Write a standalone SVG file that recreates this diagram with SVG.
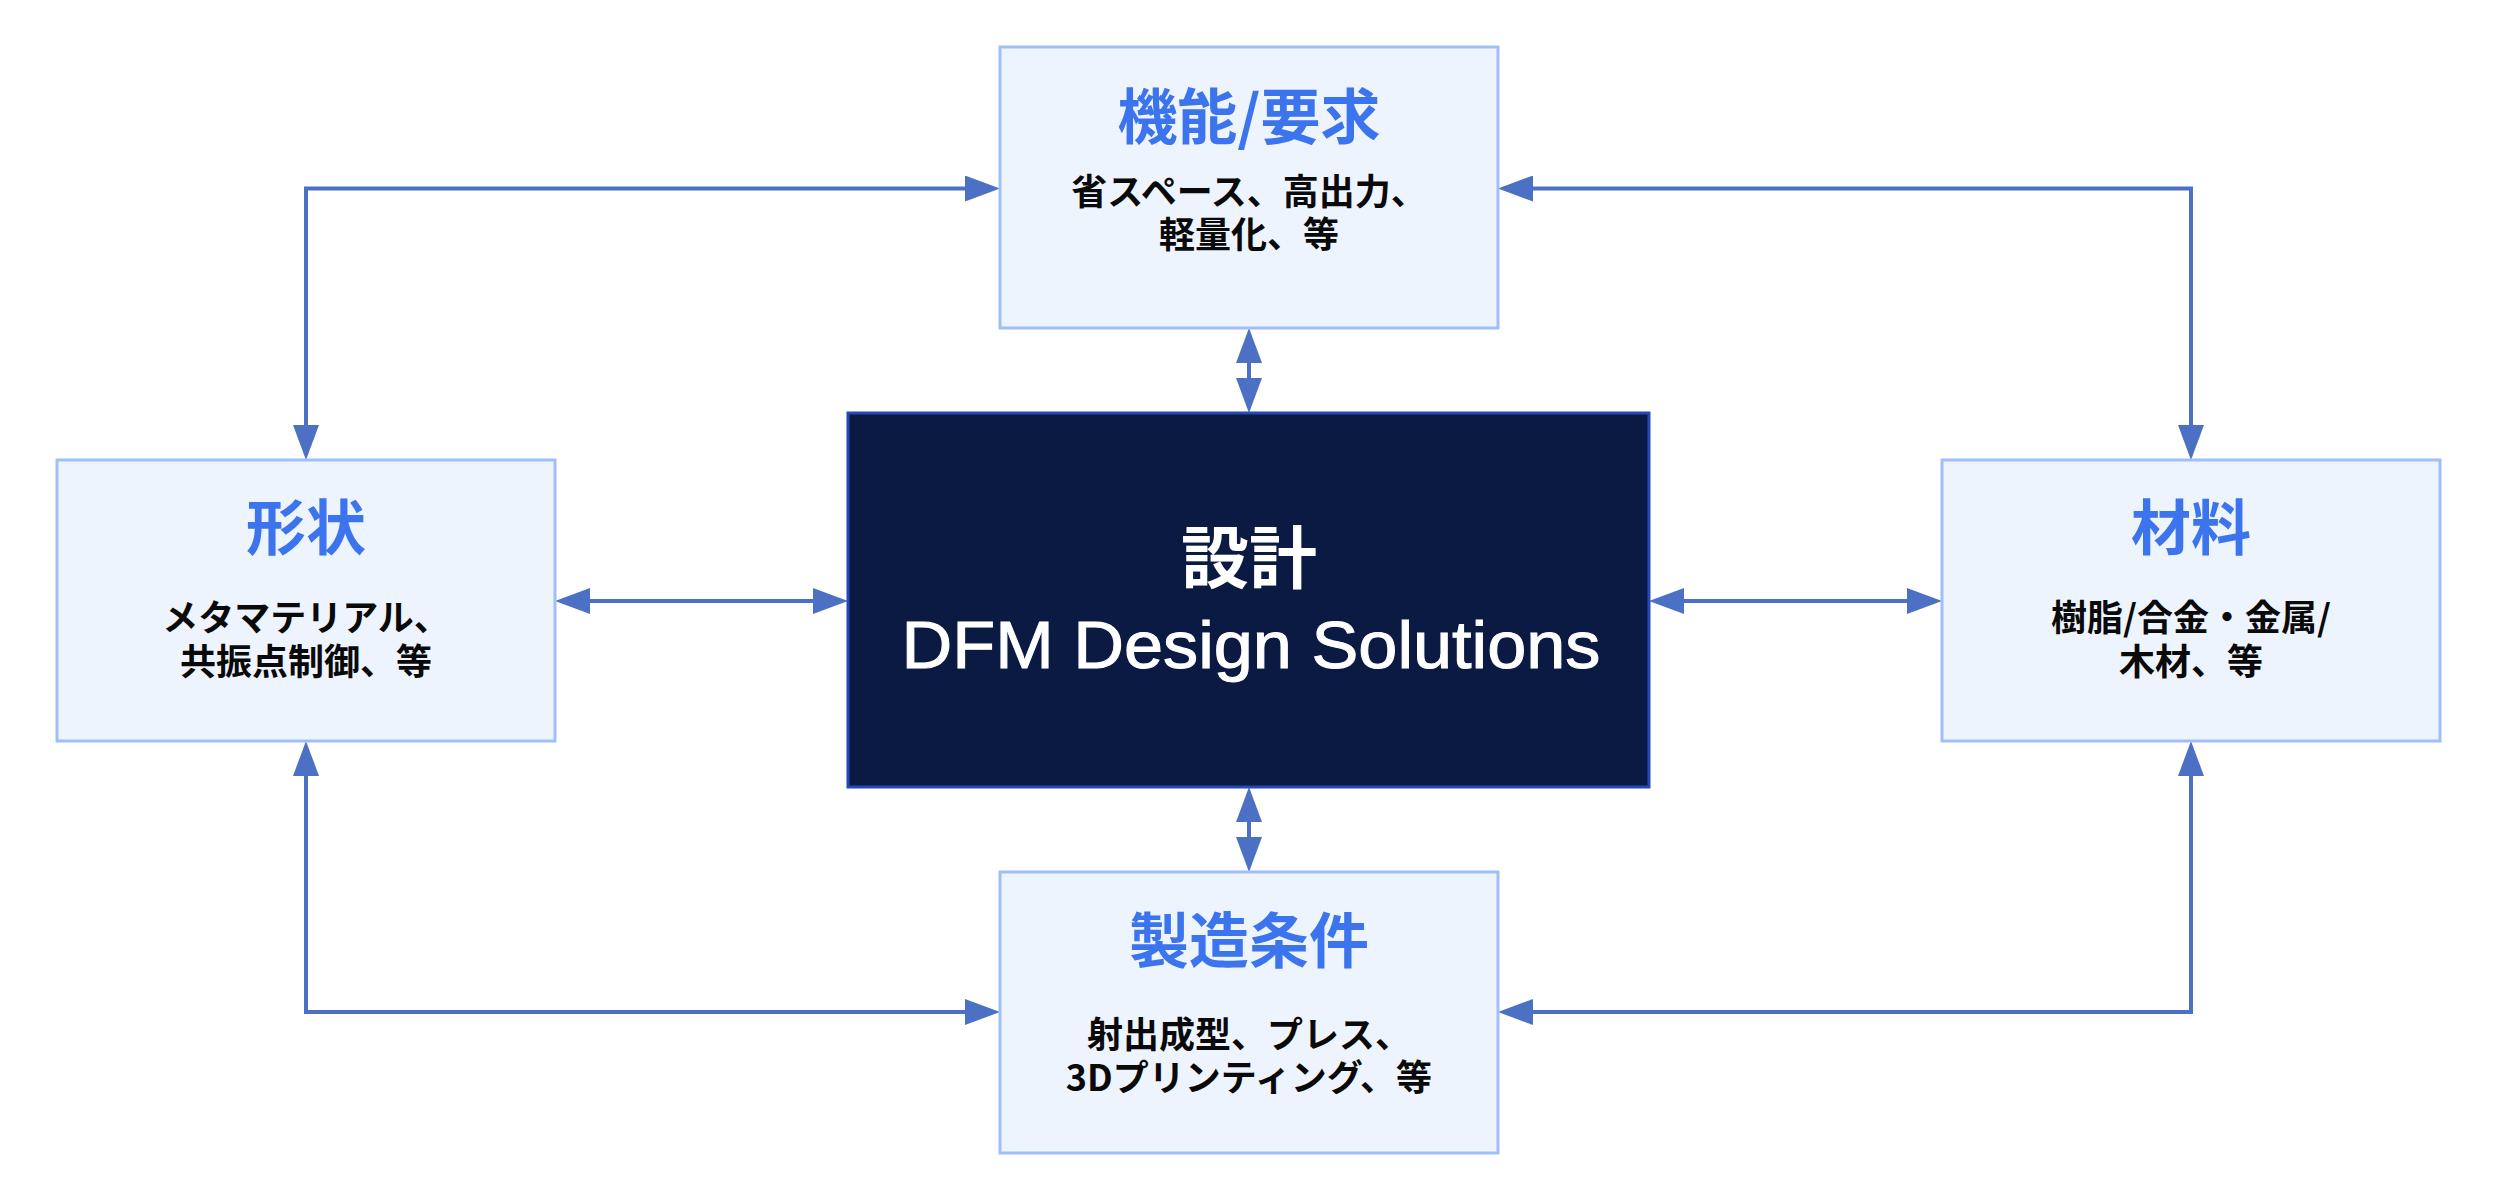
<svg xmlns="http://www.w3.org/2000/svg" width="2498" height="1200" viewBox="0 0 2498 1200">
<defs>
<style>
.box{fill:#eef4fe;stroke:#a0bff7;stroke-width:3}
.core{fill:#0a1a42;stroke:#2448b8;stroke-width:3}
.title{font-family:"Noto Sans CJK JP","Noto Sans CJK SC",sans-serif;font-size:60px;font-weight:700;fill:#3b74ec;text-anchor:middle}
.body{font-family:"Noto Sans CJK JP","Noto Sans CJK SC",sans-serif;font-size:36px;font-weight:700;fill:#0a0a0a;text-anchor:middle}
.ctitle{font-family:"Noto Sans CJK JP","Noto Sans CJK SC",sans-serif;font-size:68px;font-weight:600;fill:#ffffff;text-anchor:middle}
.clatin{font-family:"Liberation Sans",Arial,sans-serif;font-size:66px;fill:#ffffff;stroke:#ffffff;stroke-width:1;text-anchor:middle}
.conn{fill:none;stroke:#4b70c4;stroke-width:4;marker-start:url(#ah);marker-end:url(#ah)}
</style>
<marker id="ah" markerUnits="userSpaceOnUse" markerWidth="36" markerHeight="26" refX="29" refY="13" orient="auto-start-reverse" viewBox="0 0 36 26">
<path d="M0,0 L35,13 L0,26 Z" fill="#4b70c4"/>
</marker>
</defs>
<rect width="2498" height="1200" fill="#ffffff"/>
<g id="connectors">
<path class="conn" d="M306,454 V188.5 H994"/>
<path class="conn" d="M1504,188.5 H2191 V454"/>
<path class="conn" d="M306,747 V1012 H994"/>
<path class="conn" d="M1504,1012 H2191 V747"/>
<path class="conn" d="M561,601 H842"/>
<path class="conn" d="M1655,601 H1936"/>
<path class="conn" d="M1249,334 V407"/>
<path class="conn" d="M1249,793 V866"/>
</g>
<g id="node-function">
<rect class="box" x="1000" y="47" width="498" height="281"/>
<text class="title" x="1249" y="139">機能/要求</text>
<text class="body"><tspan x="1249" y="205">省スペース、高出力、</tspan><tspan x="1249" y="248">軽量化、等</tspan></text>
</g>
<g id="node-shape">
<rect class="box" x="57" y="460" width="498" height="281"/>
<text class="title" x="306" y="550">形状</text>
<text class="body"><tspan x="306" y="631">メタマテリアル、</tspan><tspan x="306" y="675">共振点制御、等</tspan></text>
</g>
<g id="node-material">
<rect class="box" x="1942" y="460" width="498" height="281"/>
<text class="title" x="2191" y="550">材料</text>
<text class="body"><tspan x="2191" y="631">樹脂/合金・金属/</tspan><tspan x="2191" y="675">木材、等</tspan></text>
</g>
<g id="node-manufacturing">
<rect class="box" x="1000" y="872" width="498" height="281"/>
<text class="title" x="1249" y="963">製造条件</text>
<text class="body"><tspan x="1249" y="1048">射出成型、プレス、</tspan><tspan x="1249" y="1091">3Dプリンティング、等</tspan></text>
</g>
<g id="node-design">
<rect class="core" x="848" y="413" width="801" height="374"/>
<text class="ctitle" x="1249" y="583">設計</text>
<text class="clatin" x="1251" y="668" textLength="699" lengthAdjust="spacingAndGlyphs">DFM Design Solutions</text>
</g>
</svg>
